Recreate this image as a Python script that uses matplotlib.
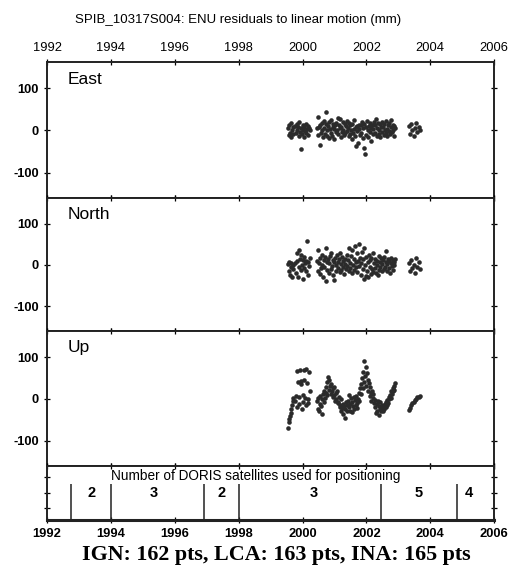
"""
ENU residuals to linear motion for DORIS station SPIB (10317S004),
with the number of DORIS satellites used shown in a strip underneath.
"""

import matplotlib
matplotlib.use("Agg")
import matplotlib.pyplot as plt

plt.rcParams.update({"font.family": ["Liberation Sans", "DejaVu Sans"],
                     "axes.unicode_minus": False})
DOT = "#2b2b2b"

# epochs (decimal years), one group per continuous stretch of solutions
t_a = [1999.55, 1999.57, 1999.59, 1999.61, 1999.63, 1999.65, 1999.67, 1999.69, 1999.71]
t_b = [1999.78, 1999.80, 1999.82, 1999.84, 1999.86, 1999.88, 1999.90, 1999.92,
       1999.94, 1999.96, 1999.98, 2000.00, 2000.02, 2000.04, 2000.06, 2000.08,
       2000.10, 2000.12, 2000.14, 2000.16, 2000.18, 2000.20, 2000.22]
t_c = [2000.46, 2000.48, 2000.50, 2000.52, 2000.54, 2000.56, 2000.58, 2000.60,
       2000.62, 2000.64, 2000.66, 2000.68, 2000.70, 2000.72, 2000.74, 2000.76,
       2000.78, 2000.80, 2000.82, 2000.84, 2000.86, 2000.88, 2000.90, 2000.92,
       2000.94, 2000.96, 2000.98, 2001.00, 2001.02, 2001.04, 2001.06, 2001.08,
       2001.10, 2001.12, 2001.14, 2001.16, 2001.18, 2001.20, 2001.22, 2001.24,
       2001.26, 2001.28, 2001.30, 2001.32, 2001.34, 2001.36, 2001.38, 2001.40,
       2001.42, 2001.44, 2001.46, 2001.48, 2001.50, 2001.52, 2001.54, 2001.56,
       2001.58, 2001.60, 2001.62, 2001.64, 2001.66, 2001.68, 2001.70, 2001.72,
       2001.74, 2001.76, 2001.78, 2001.80, 2001.82, 2001.84, 2001.86, 2001.88,
       2001.90, 2001.92, 2001.94, 2001.96, 2001.98, 2002.00, 2002.02, 2002.04,
       2002.06, 2002.08, 2002.10, 2002.12, 2002.14, 2002.16, 2002.18, 2002.20,
       2002.22, 2002.24, 2002.26, 2002.28, 2002.30, 2002.32, 2002.34, 2002.36,
       2002.38, 2002.40, 2002.42, 2002.44, 2002.46, 2002.48, 2002.50, 2002.52,
       2002.54, 2002.56, 2002.58, 2002.60, 2002.62, 2002.64, 2002.66, 2002.68,
       2002.70, 2002.72, 2002.74, 2002.76, 2002.78, 2002.80, 2002.82, 2002.84,
       2002.86, 2002.88, 2002.90]
t_d = [2003.32, 2003.36, 2003.40, 2003.44, 2003.48, 2003.52, 2003.56, 2003.60,
       2003.64, 2003.68]

# residuals (mm)
east = [5, -10, 12, -5, 18, -15, 0, 8, -8,
        10, -5, 15, 0, 8, -12, 20, -3, -43, 5, -8, 12, 2, -15, 7, -2, 15, -6, 3,
        10, -10, 5, 0,
        5, -10, 33, 8, -35, 12, -5, 18, 0, -15, 22, 6, -8, 15, 43, 2, -12,
        10, -18, 20, 4, -6, 25, -12, 8, 15, -20, 3, 12, -4, 18, 0, 30,
        -8, 14, 5, 28, -15, 9, -3, 20, 2, -10, 16, -5, 10, 22, -2,
        6, -14, 18, -8, 12, 0, -20, 15, -5, 24, 3, -12, 8, -38, 10, -2, -30, 14,
        4, -10,
        12, -6, 20, -18, 5, -41, 15, -55, 8, -10, 22, 0, -15, 10, 18, -4, 6,
        -26, 14, -8, 3, 20,
        -5, 12, 26, -12, 6, 18, -8, 2, 15, -15, 9, -3, 20,
        7, -10, 16, 0, -6, 22, 4, -14, 12, -2, 18, -8, 8, 25, -4, 14, 2, -12,
        10, 5,
        10, -8, 15, 0, -12, 5, 18, -3, 8, 2]
north = [2, -15, 8, -25, -5, 5, -30, -10, 0,
         5, -20, 30, 10, -30, 36, -5, 15, -12, 25, 0, -35, 12, -8, 20, 5, -15,
         10, 59, -25, 8, -3, 18,
         10, -15, 36, 5, -22, 18, -8, 25, 0, -30, 12, -5, 20, -40, 40, 8, -12,
         15, -20, 5, 22, -10, 28, -3, 12, -25, 8, -36, 18, 0, -15, 25, 6,
         -8, 15, -18, 30, 3, -12, 20, -5, 10, -22, 14, 2, -10, 24, -2,
         12, -15, 40, 5, -8, 22, -20, 35, 0, 15, -12, 45, 8, -5, 28, -18, 10,
         50, -3, 18,
         5, -25, 32, -10, 15, -35, 42, 0, -28, 20, -15, 8, -30, 25, -5, 12,
         -22, 18, -10, 30, -18, 5,
         -8, 15, -20, 10, 0, -25, 22, -12, 8, -5, 18, -15, 3,
         12, -10, 20, -5, 8, 33, -15, 2, 15, -8, 10, -20, 5, 18, -3, 12, -12,
         8, 0, 15,
         5, -15, 12, -8, 0, -20, 16, -5, 8, -10]
up = [-70, -55, -48, -40, -33, -25, -15, -5, 2,
      -5, 8, -20, 66, 40, 5, -12, 70, 42, 35, -25, 10, -8, 68, 45, 2, -15,
      72, 38, 0, -10, 65, 20,
      -5, -25, 3, -30, -12, 8, -18, 0, -35, 12, -8, 20, 2, 28, 15, 40, 10,
      53, 22, 45, 30, 12, 35, 18, 25, 5, 28, 10, -5, 15, 0, 20, -8,
      -10, 5, -20, -15, 0, -28, -22, -12, -35, -18, -45, -25, -8, -30, -15,
      -5, -20, 10, -28, -12, 2, -32, -8, -18, 5, -25, -2, -15, 8, -22, -10, 0,
      15, -5, 25,
      35, 12, 50, 25, 65, 40, 90, 55, 75, 30, 62, 45, 20, 38, 8, 28, 15, -5,
      18, 2, 12, -10,
      -2, -20, -34, -12, -28, -5, -38, -18, -25, -8, -30, -15, -22,
      -28, -18, -25, -12, -20, -8, -15, -2, -10, 5, 0, 10, 3, 18, 12, 25, 18,
      32, 22, 38,
      -27, -22, -15, -10, -7, -3, 1, 4, 5, 6]

# DORIS constellation changes and satellite counts
sat_changes = [1992.75, 1994.0, 1996.9, 1998.0, 2002.47, 2004.83]
sat_counts = ["2", "3", "2", "3", "5", "4"]
sat_label_x = [1993.4, 1995.35, 1997.45, 2000.35, 2003.65, 2005.2]

components = ["East", "North", "Up"]
years = [1992, 1994, 1996, 1998, 2000, 2002, 2004, 2006]

TITLE = "SPIB_10317S004: ENU residuals to linear motion (mm)"
CAPTION = "IGN: 162 pts, LCA: 163 pts, INA: 165 pts"


def style(ax):
    ax.set_xlim(1992, 2006)
    ax.set_xticks(years)
    ax.tick_params(axis="both", direction="inout", length=5, width=0.9,
                   top=True, right=True, labelsize=9.3)
    for lab in ax.get_xticklabels() + ax.get_yticklabels():
        lab.set_fontweight("bold")
    for s in ax.spines.values():
        s.set_linewidth(1.4)
        s.set_color("#222222")


fig = plt.figure(figsize=(5.11, 5.78), dpi=100)
L, W = 0.092, 0.875
bounds = [(0.6574, 0.2353), (0.4273, 0.2301), (0.1938, 0.2335)]
t_all = t_a + t_b + t_c + t_d

for name, vals, (b, h) in zip(components, [east, north, up], bounds):
    ax = fig.add_axes([L, b, W, h])
    ax.plot(t_all, vals, "o", ms=3.3, mew=0, color=DOT)
    ax.set_ylim(-160, 162)
    ax.set_yticks([-100, 0, 100])
    style(ax)
    ax.tick_params(axis="x", labelbottom=False, labeltop=(name == "East"), pad=3)
    ax.text(0.047, 0.93, name, transform=ax.transAxes, ha="left", va="top",
            fontsize=12.5)

sat = fig.add_axes([L, 0.1003, W, 0.0935])
sat.set_ylim(0.25, 3.7)
sat.set_yticks([1, 2, 3])
style(sat)
sat.tick_params(axis="y", labelleft=False, length=4)
sat.tick_params(axis="x", pad=3)
sat.spines["bottom"].set_linewidth(2.2)
sat.vlines(sat_changes, 0.25, 2.55, color="#222222", lw=1.1)
for x, n in zip(sat_label_x, sat_counts):
    sat.text(x, 1.95, n, ha="center", va="center", fontsize=10.5, fontweight="bold")
sat.text(1994.0, 3.05, "Number of DORIS satellites used for positioning",
         ha="left", va="center", fontsize=9.8)

fig.text(0.466, 0.965, TITLE, ha="center", va="center", fontsize=9.5)
fig.text(0.54, 0.04, CAPTION, ha="center", va="center", fontsize=15.8,
         fontweight="bold", family=["Liberation Serif", "DejaVu Serif"])

fig.savefig("out.png", dpi=100)
